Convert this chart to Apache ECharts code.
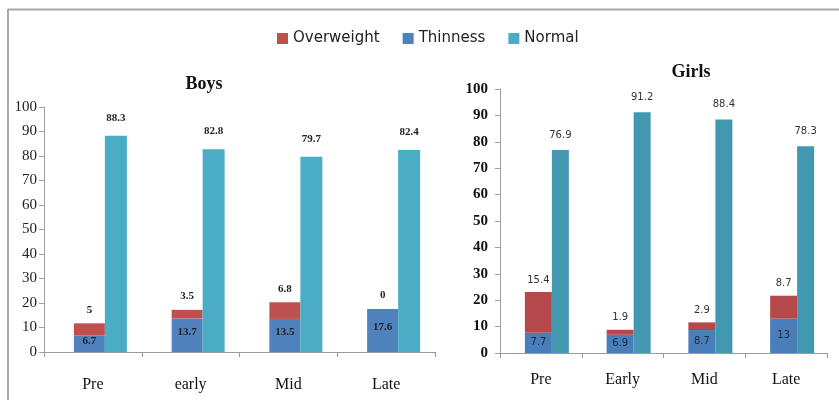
<!DOCTYPE html>
<html>
<head>
<meta charset="utf-8">
<script src="https://cdn.jsdelivr.net/npm/echarts@6/dist/echarts.min.js"></script>
<style>
  html, body { margin: 0; padding: 0; background: #fff; }
  #chart { width: 839px; height: 400px; }
</style>
</head>
<body>
<div id="chart"></div>
<script>
// Nutritional status by pubertal stage (%)
const boysCategories = ['Pre', 'early', 'Mid', 'Late'];
const girlsCategories = ['Pre', 'Early', 'Mid', 'Late'];

const boysThinness = [6.7, 13.7, 13.5, 17.6];
const boysOverweight = [5, 3.5, 6.8, 0];
const boysNormal = [88.3, 82.8, 79.7, 82.4];

const girlsThinness = [7.7, 6.9, 8.7, 13];
const girlsOverweight = [15.4, 1.9, 2.9, 8.7];
const girlsNormal = [76.9, 91.2, 88.4, 78.3];

const yTicks = { min: 0, max: 100, interval: 10 };

const C = {
  over: '#C0504D', thin: '#4F81BD', normal: '#4BACC6',
  overG: '#B5484A', thinG: '#4A7EBB', normalG: '#4398B1'
};

const serif = '"Liberation Serif", "DejaVu Serif", serif';
const sans = '"DejaVu Sans", "Noto Sans", sans-serif';

function xAxis(gridIndex, data, margin) {
  return {
    type: 'category', gridIndex, data,
    axisLine: { lineStyle: { color: '#9a9a9a', width: 1 } },
    axisTick: { show: true, length: 5, lineStyle: { color: '#9a9a9a' } },
    axisLabel: { color: '#111', fontFamily: serif, fontSize: 16, margin }
  };
}
function yAxis(gridIndex, label) {
  return Object.assign({
    type: 'value', gridIndex,
    splitLine: { show: false },
    axisLine: { show: true, lineStyle: { color: '#a0a0a0' } },
    axisTick: { show: true, length: 5, lineStyle: { color: '#a0a0a0' } },
    axisLabel: label
  }, yTicks);
}

// Transparent spacer keeps each category's bar pair in its usual place
function spacer(idx, width) {
  return {
    type: 'bar', xAxisIndex: idx, yAxisIndex: idx, stack: 'sp' + idx,
    barWidth: width, data: [0, 0, 0, 0], silent: true,
    itemStyle: { color: 'rgba(0,0,0,0)' }, label: { show: false }
  };
}

const boysLabel = { fontFamily: serif, fontWeight: 'bold', fontSize: 11, color: '#222' };
const girlsLabel = { fontFamily: sans, fontSize: 10, color: '#333' };

const option = {
  animation: false,
  backgroundColor: '#fff',
  legend: {
    data: ['Overweight', 'Thinness', 'Normal'],
    top: 31, left: 277, padding: 0,
    icon: 'rect', itemWidth: 11, itemHeight: 11, itemGap: 23,
    itemStyle: { borderWidth: 0 },
    textStyle: { fontFamily: sans, fontSize: 15, color: '#222' }
  },
  title: [
    { text: 'Boys', left: 199, top: 70, textAlign: 'center',
      textStyle: { fontFamily: serif, fontWeight: 'bold', fontSize: 18, color: '#111' } },
    { text: 'Girls', left: 686, top: 58, textAlign: 'center',
      textStyle: { fontFamily: serif, fontWeight: 'bold', fontSize: 18, color: '#111' } }
  ],
  grid: [
    { left: 44, right: 404, top: 107, bottom: 48 },
    { left: 500, right: 12, top: 89, bottom: 47 }
  ],
  xAxis: [xAxis(0, boysCategories, 25), xAxis(1, girlsCategories, 19)],
  yAxis: [
    yAxis(0, { color: '#222', fontFamily: serif, fontSize: 15, margin: 7 }),
    yAxis(1, { color: '#111', fontFamily: serif, fontWeight: 'bold', fontSize: 15, margin: 12 })
  ],
  graphic: [
    { type: 'line', shape: { x1: 8, y1: 9.5, x2: 839, y2: 9.5 }, style: { stroke: '#a8a8a8', lineWidth: 2 } },
    { type: 'line', shape: { x1: 8, y1: 9, x2: 8, y2: 400 }, style: { stroke: '#a8a8a8', lineWidth: 2 } }
  ],
  series: [
    spacer(0, 15),
    { name: 'Thinness', type: 'bar', xAxisIndex: 0, yAxisIndex: 0, stack: 'b', barWidth: 31,
      data: boysThinness, itemStyle: { color: C.thin },
      label: Object.assign({ show: true, position: 'inside', offset: [0, -3] }, boysLabel) },
    { name: 'Overweight', type: 'bar', xAxisIndex: 0, yAxisIndex: 0, stack: 'b', barWidth: 31,
      data: boysOverweight, itemStyle: { color: C.over },
      label: Object.assign({ show: true, position: 'top', distance: 8 }, boysLabel) },
    { name: 'Normal', type: 'bar', xAxisIndex: 0, yAxisIndex: 0, barWidth: 22, barGap: '0%',
      data: boysNormal, itemStyle: { color: C.normal },
      label: Object.assign({ show: true, position: 'top', distance: 12 }, boysLabel) },

    spacer(1, 12),
    { name: 'Thinness', type: 'bar', xAxisIndex: 1, yAxisIndex: 1, stack: 'g', barWidth: 27,
      data: girlsThinness, itemStyle: { color: C.thinG },
      label: Object.assign({ show: true, position: 'inside' }, girlsLabel, { color: '#1d2a40' }) },
    { name: 'Overweight', type: 'bar', xAxisIndex: 1, yAxisIndex: 1, stack: 'g', barWidth: 27,
      data: girlsOverweight, itemStyle: { color: C.overG },
      label: Object.assign({ show: true, position: 'top', distance: 7 }, girlsLabel) },
    { name: 'Normal', type: 'bar', xAxisIndex: 1, yAxisIndex: 1, barWidth: 17, barGap: '0%',
      data: girlsNormal, itemStyle: { color: C.normalG },
      label: Object.assign({ show: true, position: 'top', distance: 10 }, girlsLabel) }
  ]
};

echarts.init(document.getElementById('chart'), null, { renderer: 'canvas' }).setOption(option);
</script>
</body>
</html>
